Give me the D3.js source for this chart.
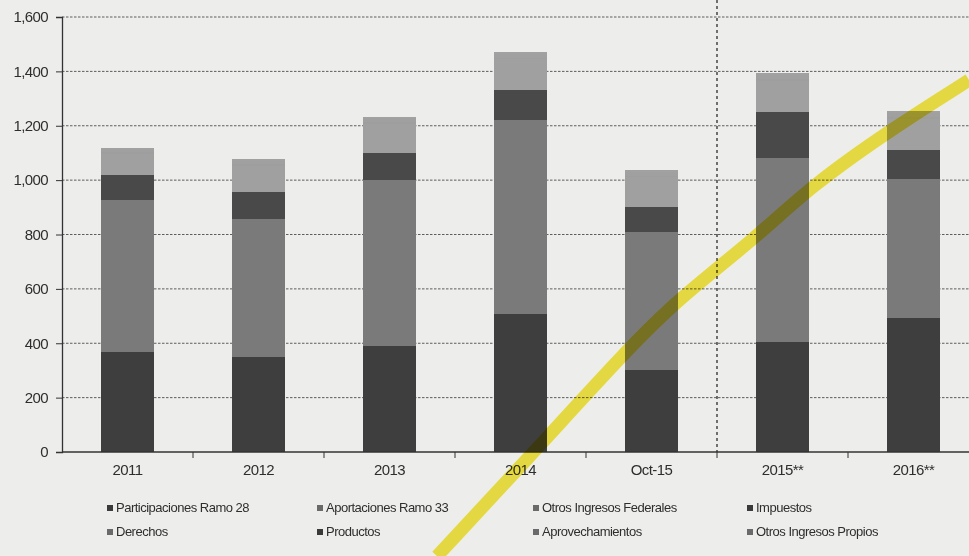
<!DOCTYPE html>
<html>
<head>
<meta charset="utf-8">
<script src="https://cdn.jsdelivr.net/npm/d3@7"></script>
<style>
  html, body { margin: 0; padding: 0; background: #ededeb; }
  svg { display: block; }
  text { font-family: "Liberation Sans", Arial, sans-serif; fill: #2e2e2e; }
</style>
</head>
<body>
<script>
// ---------- data (millones de pesos) ----------
const categories = ["2011", "2012", "2013", "2014", "Oct-15", "2015**", "2016**"];
const participacionesRamo28 = [368, 351, 390, 508, 300, 406, 492];
const aportacionesRamo33    = [559, 505, 610, 713, 510, 674, 511];
const otrosIngresosFederales = [92, 101, 99, 110, 92, 172, 108];
const impuestos             = [44, 54, 60, 63, 61, 63, 65];
const derechos              = [34, 42, 47, 50, 47, 50, 50];
const productos             = [5, 6, 7, 7, 7, 7, 7];
const aprovechamientos      = [10, 12, 13, 14, 13, 14, 15];
const otrosIngresosPropios  = [5, 6, 7, 7, 7, 7, 7];
const yTicks = [0, 200, 400, 600, 800, 1000, 1200, 1400, 1600];

const seriesNames = ["Participaciones Ramo 28", "Aportaciones Ramo 33", "Otros Ingresos Federales", "Impuestos",
                     "Derechos", "Productos", "Aprovechamientos", "Otros Ingresos Propios"];
const seriesValues = [participacionesRamo28, aportacionesRamo33, otrosIngresosFederales, impuestos,
                      derechos, productos, aprovechamientos, otrosIngresosPropios];
const seriesColors = ["#3e3e3e", "#7a7a7a", "#494949", "#a0a0a0", "#a0a0a0", "#9e9e9e", "#a0a0a0", "#a1a1a1"];

// highlighter stroke on the scanned page (annotation, not data): [band position, value]
const highlighter = [[2.863, -383], [3.595, -4], [4.298, 368], [4.695, 559], [5.305, 791], [5.71, 975], [6.32, 1184], [6.924, 1368]];

// ---------- layout ----------
const W = 969, H = 556;
const mLeft = 62, mRight = 979, mTop = 17, mBottom = 452;

const svg = d3.select("body").append("svg").attr("width", W).attr("height", H);
svg.append("rect").attr("width", W).attr("height", H).attr("fill", "#ededeb");

const x = d3.scaleBand().domain(categories).range([mLeft, mRight]).paddingInner(0.595).paddingOuter(0.2975);
const xPos = d3.scaleLinear().domain([0, categories.length]).range([mLeft, mRight]);
const y = d3.scaleLinear().domain([0, 1600]).range([mBottom, mTop]);

// gridlines
svg.append("g").selectAll("line").data(yTicks.filter(d => d > 0)).join("line")
  .attr("x1", mLeft).attr("x2", W).attr("y1", d => y(d)).attr("y2", d => y(d))
  .attr("stroke", "#444").attr("stroke-width", 1).attr("stroke-dasharray", "2.5,1.5").attr("opacity", 0.85);

// vertical separator between Oct-15 and 2015**
const sepX = xPos(5);
svg.append("line").attr("x1", sepX).attr("x2", sepX).attr("y1", 0).attr("y2", mBottom)
  .attr("stroke", "#3a3a3a").attr("stroke-width", 1.4).attr("stroke-dasharray", "3,3");

// stacked bars
const table = categories.map((c, i) => {
  const row = { cat: c };
  seriesNames.forEach((s, k) => row[s] = seriesValues[k][i]);
  return row;
});
const stack = d3.stack().keys(seriesNames)(table);
svg.append("g").attr("shape-rendering", "crispEdges").selectAll("g").data(stack).join("g")
  .attr("fill", (d, k) => seriesColors[k])
  .selectAll("rect").data(d => d).join("rect")
  .attr("x", d => x(d.data.cat))
  .attr("width", x.bandwidth())
  .attr("y", d => y(d[1]))
  .attr("height", d => y(d[0]) - y(d[1]));

// y axis
const yAxis = svg.append("g").attr("transform", `translate(${mLeft},0)`)
  .call(d3.axisLeft(y).tickValues(yTicks).tickSize(6).tickPadding(8).tickFormat(d3.format(",")));
yAxis.select(".domain").attr("stroke", "#333").attr("stroke-width", 1.3);
yAxis.selectAll(".tick line").attr("stroke", "#333");
yAxis.selectAll("text").attr("font-size", 15).attr("letter-spacing", -0.6).attr("fill", "#2e2e2e");

// x axis
const xAxis = svg.append("g").attr("transform", `translate(0,${mBottom})`)
  .call(d3.axisBottom(x).tickSize(0).tickPadding(12));
xAxis.select(".domain").remove();
svg.append("line").attr("x1", mLeft).attr("x2", W).attr("y1", mBottom).attr("y2", mBottom)
  .attr("stroke", "#333").attr("stroke-width", 1.3);
svg.append("g").selectAll("line").data(d3.range(1, categories.length)).join("line")
  .attr("x1", d => xPos(d)).attr("x2", d => xPos(d)).attr("y1", mBottom).attr("y2", mBottom + 6)
  .attr("stroke", "#333");
xAxis.selectAll("text").attr("font-size", 15).attr("letter-spacing", -0.6).attr("fill", "#2e2e2e");

// legend
const legendCols = [107, 317, 533, 747];
const legendRows = [513, 537];
const lg = svg.append("g").selectAll("g").data(seriesNames).join("g")
  .attr("transform", (d, i) => `translate(${legendCols[i % 4]},${legendRows[Math.floor(i / 4)]})`);
lg.append("rect").attr("x", 0).attr("y", -8).attr("width", 6).attr("height", 6)
  .attr("fill", (d, i) => i === 0 || i === 3 || i === 5 ? "#3a3a3a" : "#6a6a6a");
lg.append("text").attr("x", 9).attr("y", -1).attr("font-size", 13).attr("letter-spacing", -0.5)
  .text(d => d);

// highlighter annotation
svg.append("path")
  .datum(highlighter)
  .attr("d", d3.line().x(d => xPos(d[0])).y(d => y(d[1])).curve(d3.curveBasis))
  .attr("fill", "none").attr("stroke", "#f5e626").attr("stroke-width", 13)
  .attr("stroke-linecap", "butt").attr("opacity", 0.85).style("mix-blend-mode", "multiply");
</script>
</body>
</html>
